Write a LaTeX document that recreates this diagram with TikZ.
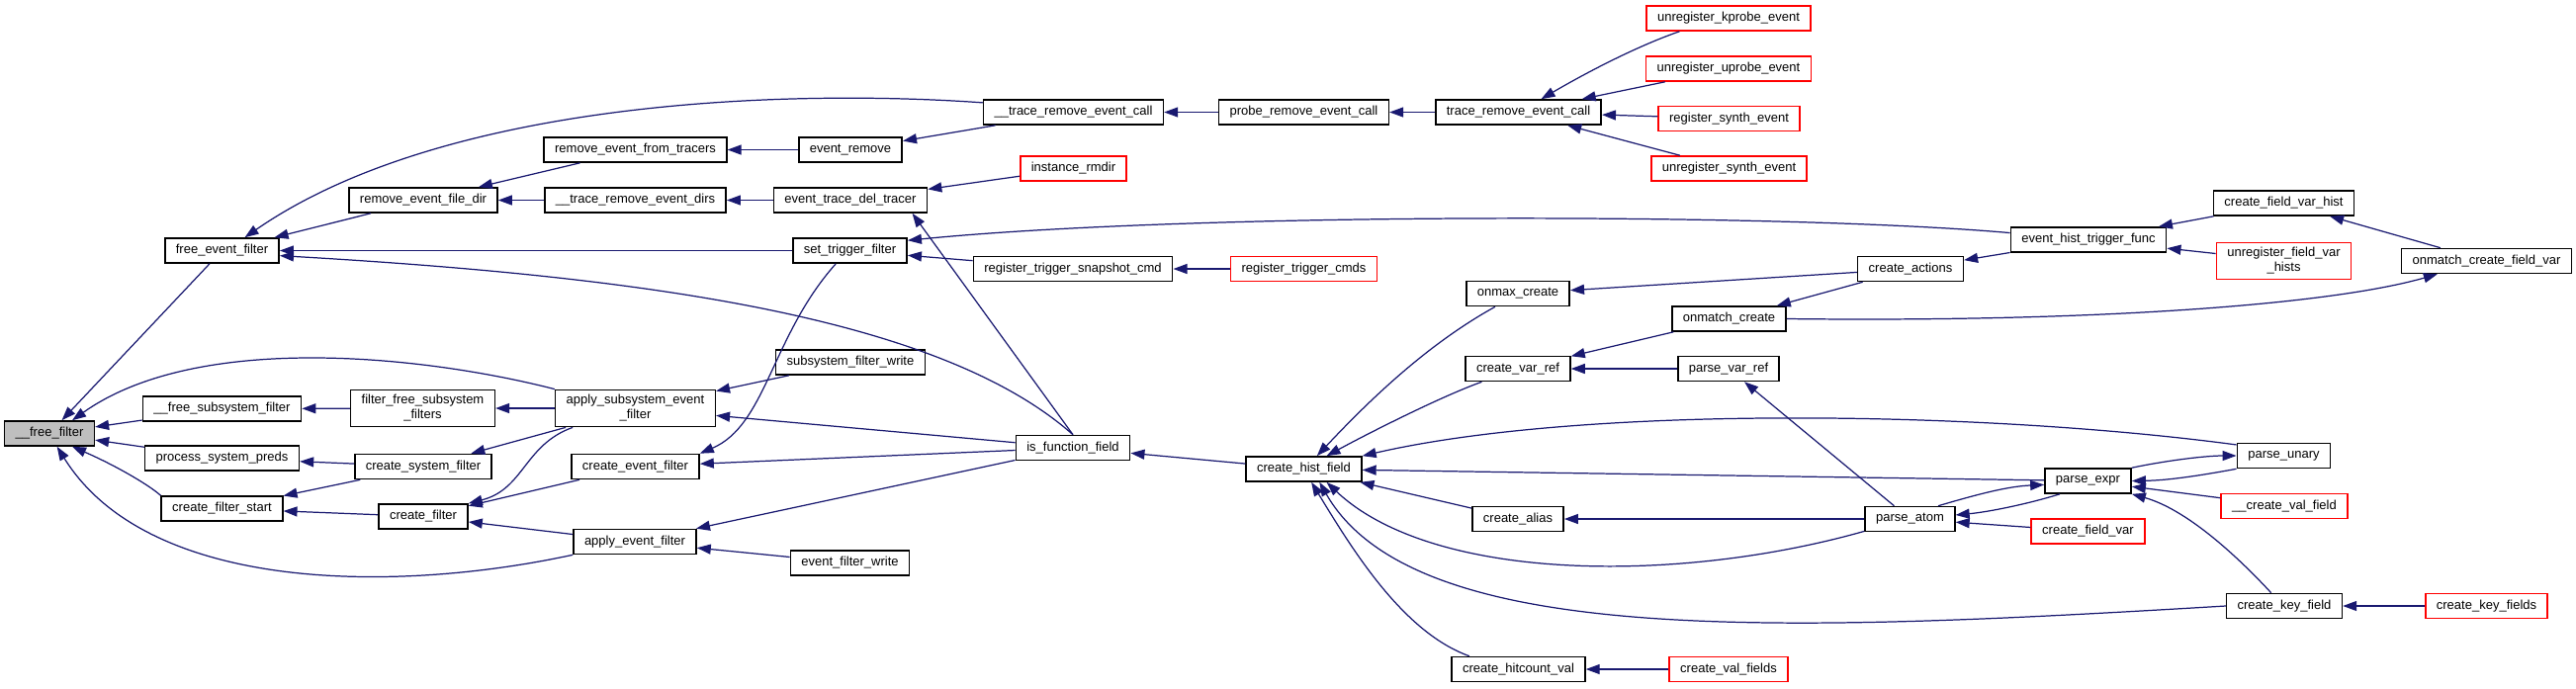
\documentclass[tikz,border=0pt]{standalone}
\usepackage{fontspec}
\setmainfont{Liberation Sans}
\usepackage{xcolor}
\definecolor{edgeblue}{RGB}{25,25,112}
\definecolor{rootgray}{RGB}{191,191,191}
\definecolor{truncred}{RGB}{255,0,0}
\usepackage{tikz}
\usetikzlibrary{arrows.meta}

\begin{document}
\begin{tikzpicture}[x=0.01cm,y=-0.01cm,
  fn/.style={draw=black,fill=white,line width=0.45pt,minimum height=0.25cm,inner xsep=0.11cm,inner ysep=0.05cm,font=\fontsize{3.7pt}{4.3pt}\selectfont,align=center},
  root/.style={fn,fill=rootgray},
  trunc/.style={fn,draw=truncred},
  call/.style={draw=edgeblue,line width=0.35pt,-{Triangle[length=0.14cm,width=0.1cm]}}
]
  \useasboundingbox (0,0) rectangle (2605,696);

  % Column 1
  \node[root] (ff) at (50,438.5) {\_\_free\_filter};

  % Column 2
  \node[fn] (fef) at (224.5,253.5) {free\_event\_filter};
  \node[fn] (fsf) at (224.5,413.5) {\_\_free\_subsystem\_filter};
  \node[fn] (psp) at (224.5,463.5) {process\_system\_preds};
  \node[fn] (cfs) at (224.5,514.5) {create\_filter\_start};

  % Column 3
  \node[fn] (refd) at (428,202.5) {remove\_event\_file\_dir};
  \node[fn] (ffsf) at (427.5,413) {filter\_free\_subsystem\\\_filters};
  \node[fn] (csf) at (428,472) {create\_system\_filter};
  \node[fn] (cf) at (428,522.5) {create\_filter};

  % Column 4
  \node[fn] (reft) at (642.5,151.5) {remove\_event\_from\_tracers};
  \node[fn] (tred) at (642.5,202.5) {\_\_trace\_remove\_event\_dirs};
  \node[fn] (asef) at (642.5,413) {apply\_subsystem\_event\\\_filter};
  \node[fn] (cef) at (642.5,472) {create\_event\_filter};
  \node[fn] (aef) at (642,548) {apply\_event\_filter};

  % Column 5
  \node[fn] (er) at (860,151.5) {event\_remove};
  \node[fn] (etdt) at (860,202.5) {event\_trace\_del\_tracer};
  \node[fn] (stf) at (859.5,253.5) {set\_trigger\_filter};
  \node[fn] (sfw) at (860,366.5) {subsystem\_filter\_write};
  \node[fn] (efw) at (859.5,569.5) {event\_filter\_write};

  % Column 6
  \node[fn] (trecb) at (1085.5,113.5) {\_\_trace\_remove\_event\_call};
  \node[trunc] (ir) at (1085.5,170.5) {instance\_rmdir};
  \node[fn] (rtsc) at (1085,272) {register\_trigger\_snapshot\_cmd};
  \node[fn] (iff) at (1085,453) {is\_function\_field};

  % Column 7
  \node[fn] (prec) at (1318.5,113.5) {probe\_remove\_event\_call};
  \node[trunc] (rtc) at (1318.5,272) {register\_trigger\_cmds};
  \node[fn] (chf) at (1318.5,474.5) {create\_hist\_field};

  % Column 8
  \node[fn] (trec) at (1535.5,113.5) {trace\_remove\_event\_call};
  \node[fn] (omc) at (1535,297) {onmax\_create};
  \node[fn] (cvr) at (1535,373) {create\_var\_ref};
  \node[fn] (ca) at (1535,525) {create\_alias};
  \node[fn] (chv) at (1535.5,677) {create\_hitcount\_val};

  % Column 9
  \node[trunc] (ukp) at (1748,18.5) {unregister\_kprobe\_event};
  \node[trunc] (uup) at (1748,69.5) {unregister\_uprobe\_event};
  \node[trunc] (rse) at (1748.5,120) {register\_synth\_event};
  \node[trunc] (unse) at (1748.5,170.5) {unregister\_synth\_event};
  \node[fn] (omt) at (1748.5,322.5) {onmatch\_create};
  \node[fn] (pvr) at (1748,373) {parse\_var\_ref};
  \node[trunc] (cvfs) at (1748,677) {create\_val\_fields};

  % Column 10
  \node[fn] (cact) at (1932,272) {create\_actions};
  \node[fn] (pa) at (1931.5,525) {parse\_atom};

  % Column 11
  \node[fn] (ehtf) at (2112,242.5) {event\_hist\_trigger\_func};
  \node[fn] (pe) at (2111.5,486.5) {parse\_expr};
  \node[trunc] (cfv) at (2111.5,537.5) {create\_field\_var};

  % Column 12
  \node[fn] (cfvh) at (2309.5,205.5) {create\_field\_var\_hist};
  \node[trunc] (ufvh) at (2309.5,264) {unregister\_field\_var\\\_hists};
  \node[fn] (pu) at (2309.5,461) {parse\_unary};
  \node[trunc] (cvf) at (2310,512) {\_\_create\_val\_field};
  \node[fn] (ckf) at (2310,613) {create\_key\_field};

  % Column 13
  \node[fn] (omcfv) at (2514.5,264) {onmatch\_create\_field\_var};
  \node[trunc] (ckfs) at (2514.5,613) {create\_key\_fields};

  % Calls into column 1
  \draw[call] (fef) -- (ff);
  \draw[call] (asef.north west) .. controls (430,360) and (200,335) .. (ff.30);
  \draw[call] (fsf) -- (ff);
  \draw[call] (psp) -- (ff);
  \draw[call] (cfs.north west) .. controls (150,490) and (115,470) .. (ff.-30);
  \draw[call] (aef.south west) .. controls (400,600) and (150,600) .. (ff.-60);

  % Calls into column 2
  \draw[call] (trecb.174) .. controls (800,90) and (450,100) .. (fef.30);
  \draw[call] (refd) -- (fef);
  \draw[call] (stf) -- (fef);
  \draw[call] (iff.north) .. controls (950,320) and (650,280) .. (fef.-5);
  \draw[call] (ffsf) -- (fsf);
  \draw[call] (csf) -- (psp);
  \draw[call] (csf) -- (cfs);
  \draw[call] (cf) -- (cfs);

  % Calls into column 3
  \draw[call] (reft) -- (refd);
  \draw[call] (tred) -- (refd);
  \draw[call] (asef) -- (ffsf);
  \draw[call] (asef) -- (csf);
  \draw[call] (asef.-163) .. controls (530,450) and (530,495) .. (cf.north east);
  \draw[call] (cef) -- (cf);
  \draw[call] (aef) -- (cf);

  % Calls into column 4
  \draw[call] (er) -- (reft);
  \draw[call] (etdt) -- (tred);
  \draw[call] (stf.-137) .. controls (780,340) and (775,430) .. (cef.north east);
  \draw[call] (sfw) -- (asef);
  \draw[call] (iff) -- (asef);
  \draw[call] (iff) -- (cef);
  \draw[call] (iff) -- (aef);
  \draw[call] (efw) -- (aef);

  % Calls into column 5
  \draw[call] (trecb) -- (er);
  \draw[call] (ir) -- (etdt);
  \draw[call] (iff.north) -- (etdt.-12);
  \draw[call] (ehtf.175) .. controls (1800,215) and (1200,215) .. (stf.10);
  \draw[call] (rtsc) -- (stf);

  % Calls into column 6
  \draw[call] (prec) -- (trecb);
  \draw[call] (rtc) -- (rtsc);
  \draw[call] (chf) -- (iff);

  % Calls into column 7
  \draw[call] (trec) -- (prec);
  \draw[call] (omc.-150) .. controls (1440,350) and (1380,410) .. (chf.45);
  \draw[call] (cvr.-160) .. controls (1460,400) and (1390,435) .. (chf.30);
  \draw[call] (pu.167) .. controls (2000,415) and (1600,410) .. (chf.north east);
  \draw[call] (pe) -- (chf);
  \draw[call] (ca) -- (chf);
  \draw[call] (pa.-165) .. controls (1700,590) and (1450,590) .. (chf.-30);
  \draw[call] (ckf.west) .. controls (1800,640) and (1430,655) .. (chf.-40);
  \draw[call] (chv.165) .. controls (1420,640) and (1370,560) .. (chf.-60);

  % Calls into column 8
  \draw[call] (ukp.-165) .. controls (1660,45) and (1610,70) .. (trec.30);
  \draw[call] (uup) -- (trec);
  \draw[call] (rse) -- (trec);
  \draw[call] (unse) -- (trec);
  \draw[call] (cact) -- (omc);
  \draw[call] (omt) -- (cvr);
  \draw[call] (pvr) -- (cvr);
  \draw[call] (pa) -- (ca);
  \draw[call] (cvfs) -- (chv);

  % Calls into column 9
  \draw[call] (cact) -- (omt);
  \draw[call] (pa) -- (pvr);

  % Calls into column 10
  \draw[call] (ehtf) -- (cact);
  \draw[call] (pe.-155) .. controls (2050,510) and (2010,518) .. (pa.5);
  \draw[call] (cfv) -- (pa);

  % Calls into column 11
  \draw[call] (cfvh) -- (ehtf);
  \draw[call] (ufvh) -- (ehtf);
  \draw[call] (pa.25) .. controls (2000,500) and (2030,492) .. (pe.-175);
  \draw[call] (pu.south west) .. controls (2220,482) and (2190,486) .. (pe.east);
  \draw[call] (cvf) -- (pe);
  \draw[call] (ckf.135) .. controls (2260,560) and (2210,515) .. (pe.south east);

  % Calls into column 12
  \draw[call] (pe.north east) .. controls (2190,466) and (2230,461) .. (pu.west);
  \draw[call] (omcfv) -- (cfvh);
  \draw[call] (ckfs) -- (ckf);

  % Calls into column 13
  \draw[call] (omt.east) .. controls (2100,326) and (2350,310) .. (omcfv.-165);
\end{tikzpicture}
\end{document}
